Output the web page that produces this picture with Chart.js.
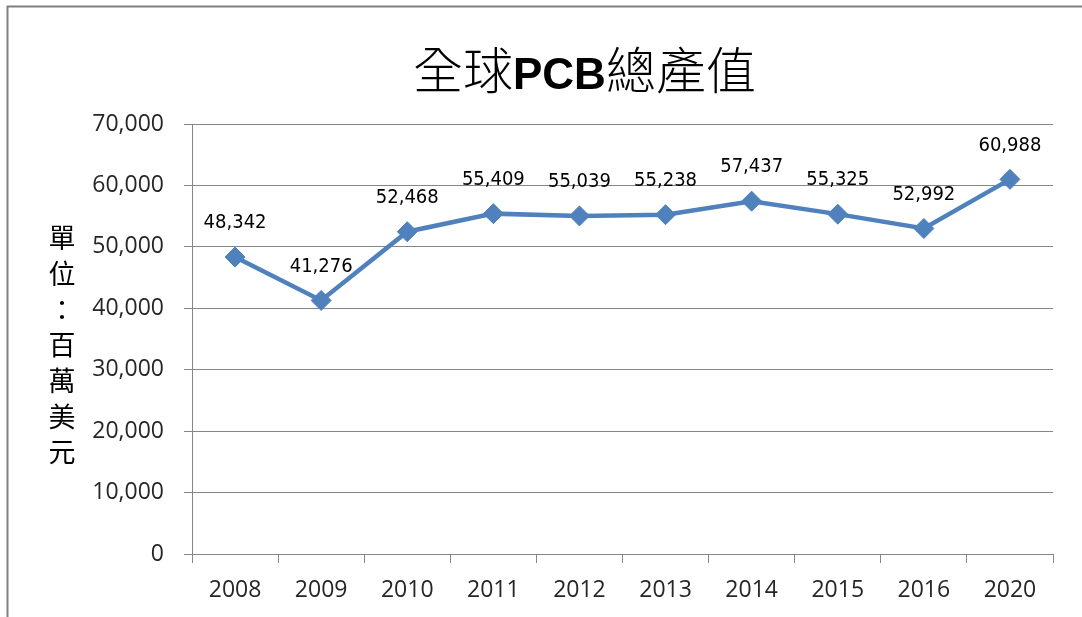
<!DOCTYPE html>
<html>
<head>
<meta charset="utf-8">
<script src="https://cdn.jsdelivr.net/npm/chart.js@4.4.1/dist/chart.umd.min.js"></script>
<style>
  body { margin: 0; background: #ffffff; }
  canvas { display: block; }
</style>
</head>
<body>
<canvas id="pcbChart" width="1082" height="617"></canvas>
<script>
// Chart data
var years = ['2008', '2009', '2010', '2011', '2012', '2013', '2014', '2015', '2016', '2020'];
var outputValues = [48342, 41276, 52468, 55409, 55039, 55238, 57437, 55325, 52992, 60988];
var yTickValues = [0, 10000, 20000, 30000, 40000, 50000, 60000, 70000];
var axisTitleChars = ['單', '位', '：', '百', '萬', '美', '元'];

var lineColor = '#4F81BD';
var gridColor = '#868686';
var textColor = '#262626';

function withCommas(n) {
    return n.toString().replace(/\B(?=(\d{3})+(?!\d))/g, ',');
}

// Outer frame, title and the stacked y axis title
var decorPlugin = {
    id: 'decor',
    beforeDraw: function(chart) {
        var ctx = chart.ctx;
        ctx.save();
        ctx.fillStyle = '#ffffff';
        ctx.fillRect(0, 0, chart.width, chart.height);
        ctx.strokeStyle = '#808080';
        ctx.lineWidth = 2;
        ctx.beginPath();
        ctx.moveTo(7.5, chart.height);
        ctx.lineTo(7.5, 6.5);
        ctx.lineTo(chart.width, 6.5);
        ctx.stroke();
        ctx.restore();
    },
    afterDraw: function(chart) {
        var ctx = chart.ctx;
        ctx.save();
        ctx.fillStyle = '#000000';
        ctx.textBaseline = 'alphabetic';
        ctx.textAlign = 'left';

        // title: Chinese parts thin, PCB bold
        var parts = [
            { text: '全球', font: '300 50px "Noto Sans CJK TC"' },
            { text: 'PCB', font: 'bold 44px "Liberation Sans"' },
            { text: '總產值', font: '300 50px "Noto Sans CJK TC"' }
        ];
        var x = 413;
        parts.forEach(function(p) {
            ctx.font = p.font;
            ctx.fillText(p.text, x, 89);
            x += ctx.measureText(p.text).width;
        });

        // y axis title, one character per line
        ctx.font = '27px "Noto Sans CJK TC"';
        ctx.textAlign = 'center';
        ctx.textBaseline = 'middle';
        axisTitleChars.forEach(function(ch, i) {
            ctx.fillText(ch, 62, 238 + i * 35.7);
        });
        ctx.restore();
    }
};

// Value labels above each point
var valueLabelPlugin = {
    id: 'valueLabels',
    afterDatasetsDraw: function(chart) {
        var ctx = chart.ctx;
        var meta = chart.getDatasetMeta(0);
        ctx.save();
        ctx.font = '20px "DejaVu Sans Condensed", "DejaVu Sans", sans-serif';
        ctx.fillStyle = '#000000';
        ctx.textAlign = 'center';
        ctx.textBaseline = 'middle';
        meta.data.forEach(function(pt, i) {
            ctx.fillText(withCommas(outputValues[i]), pt.x, pt.y - 34);
        });
        ctx.restore();
    }
};

document.addEventListener('DOMContentLoaded', function() {
    var ctx = document.getElementById('pcbChart').getContext('2d');
    new Chart(ctx, {
        type: 'line',
        data: {
            labels: years,
            datasets: [{
                label: '全球PCB總產值',
                data: outputValues,
                borderColor: lineColor,
                backgroundColor: lineColor,
                borderWidth: 4.5,
                pointStyle: 'rectRot',
                pointRadius: 10,
                pointBorderWidth: 1,
                pointBackgroundColor: lineColor,
                pointBorderColor: lineColor,
                tension: 0
            }]
        },
        options: {
            responsive: false,
            animation: false,
            devicePixelRatio: 1,
            layout: {
                padding: { left: 0, top: 124, right: 29, bottom: 0 }
            },
            plugins: {
                legend: { display: false },
                title: { display: false },
                tooltip: { enabled: false }
            },
            scales: {
                x: {
                    offset: true,
                    afterFit: function(scale) { scale.height = 63; },
                    grid: {
                        offset: true,
                        drawOnChartArea: false,
                        drawTicks: true,
                        tickLength: 9,
                        color: gridColor
                    },
                    border: { display: true, color: gridColor },
                    ticks: {
                        color: textColor,
                        font: { family: 'Open Sans', size: 23 },
                        padding: 14,
                        maxRotation: 0
                    }
                },
                y: {
                    min: 0,
                    max: 70000,
                    afterFit: function(scale) { scale.width = 192; },
                    afterBuildTicks: function(scale) {
                        scale.ticks = yTickValues.map(function(v) { return { value: v }; });
                    },
                    grid: {
                        color: gridColor,
                        tickLength: 8
                    },
                    border: { display: true, color: gridColor },
                    ticks: {
                        color: textColor,
                        font: { family: 'Open Sans', size: 23 },
                        padding: 20,
                        callback: function(v) { return withCommas(v); }
                    }
                }
            }
        },
        plugins: [decorPlugin, valueLabelPlugin]
    });
});
</script>
</body>
</html>
